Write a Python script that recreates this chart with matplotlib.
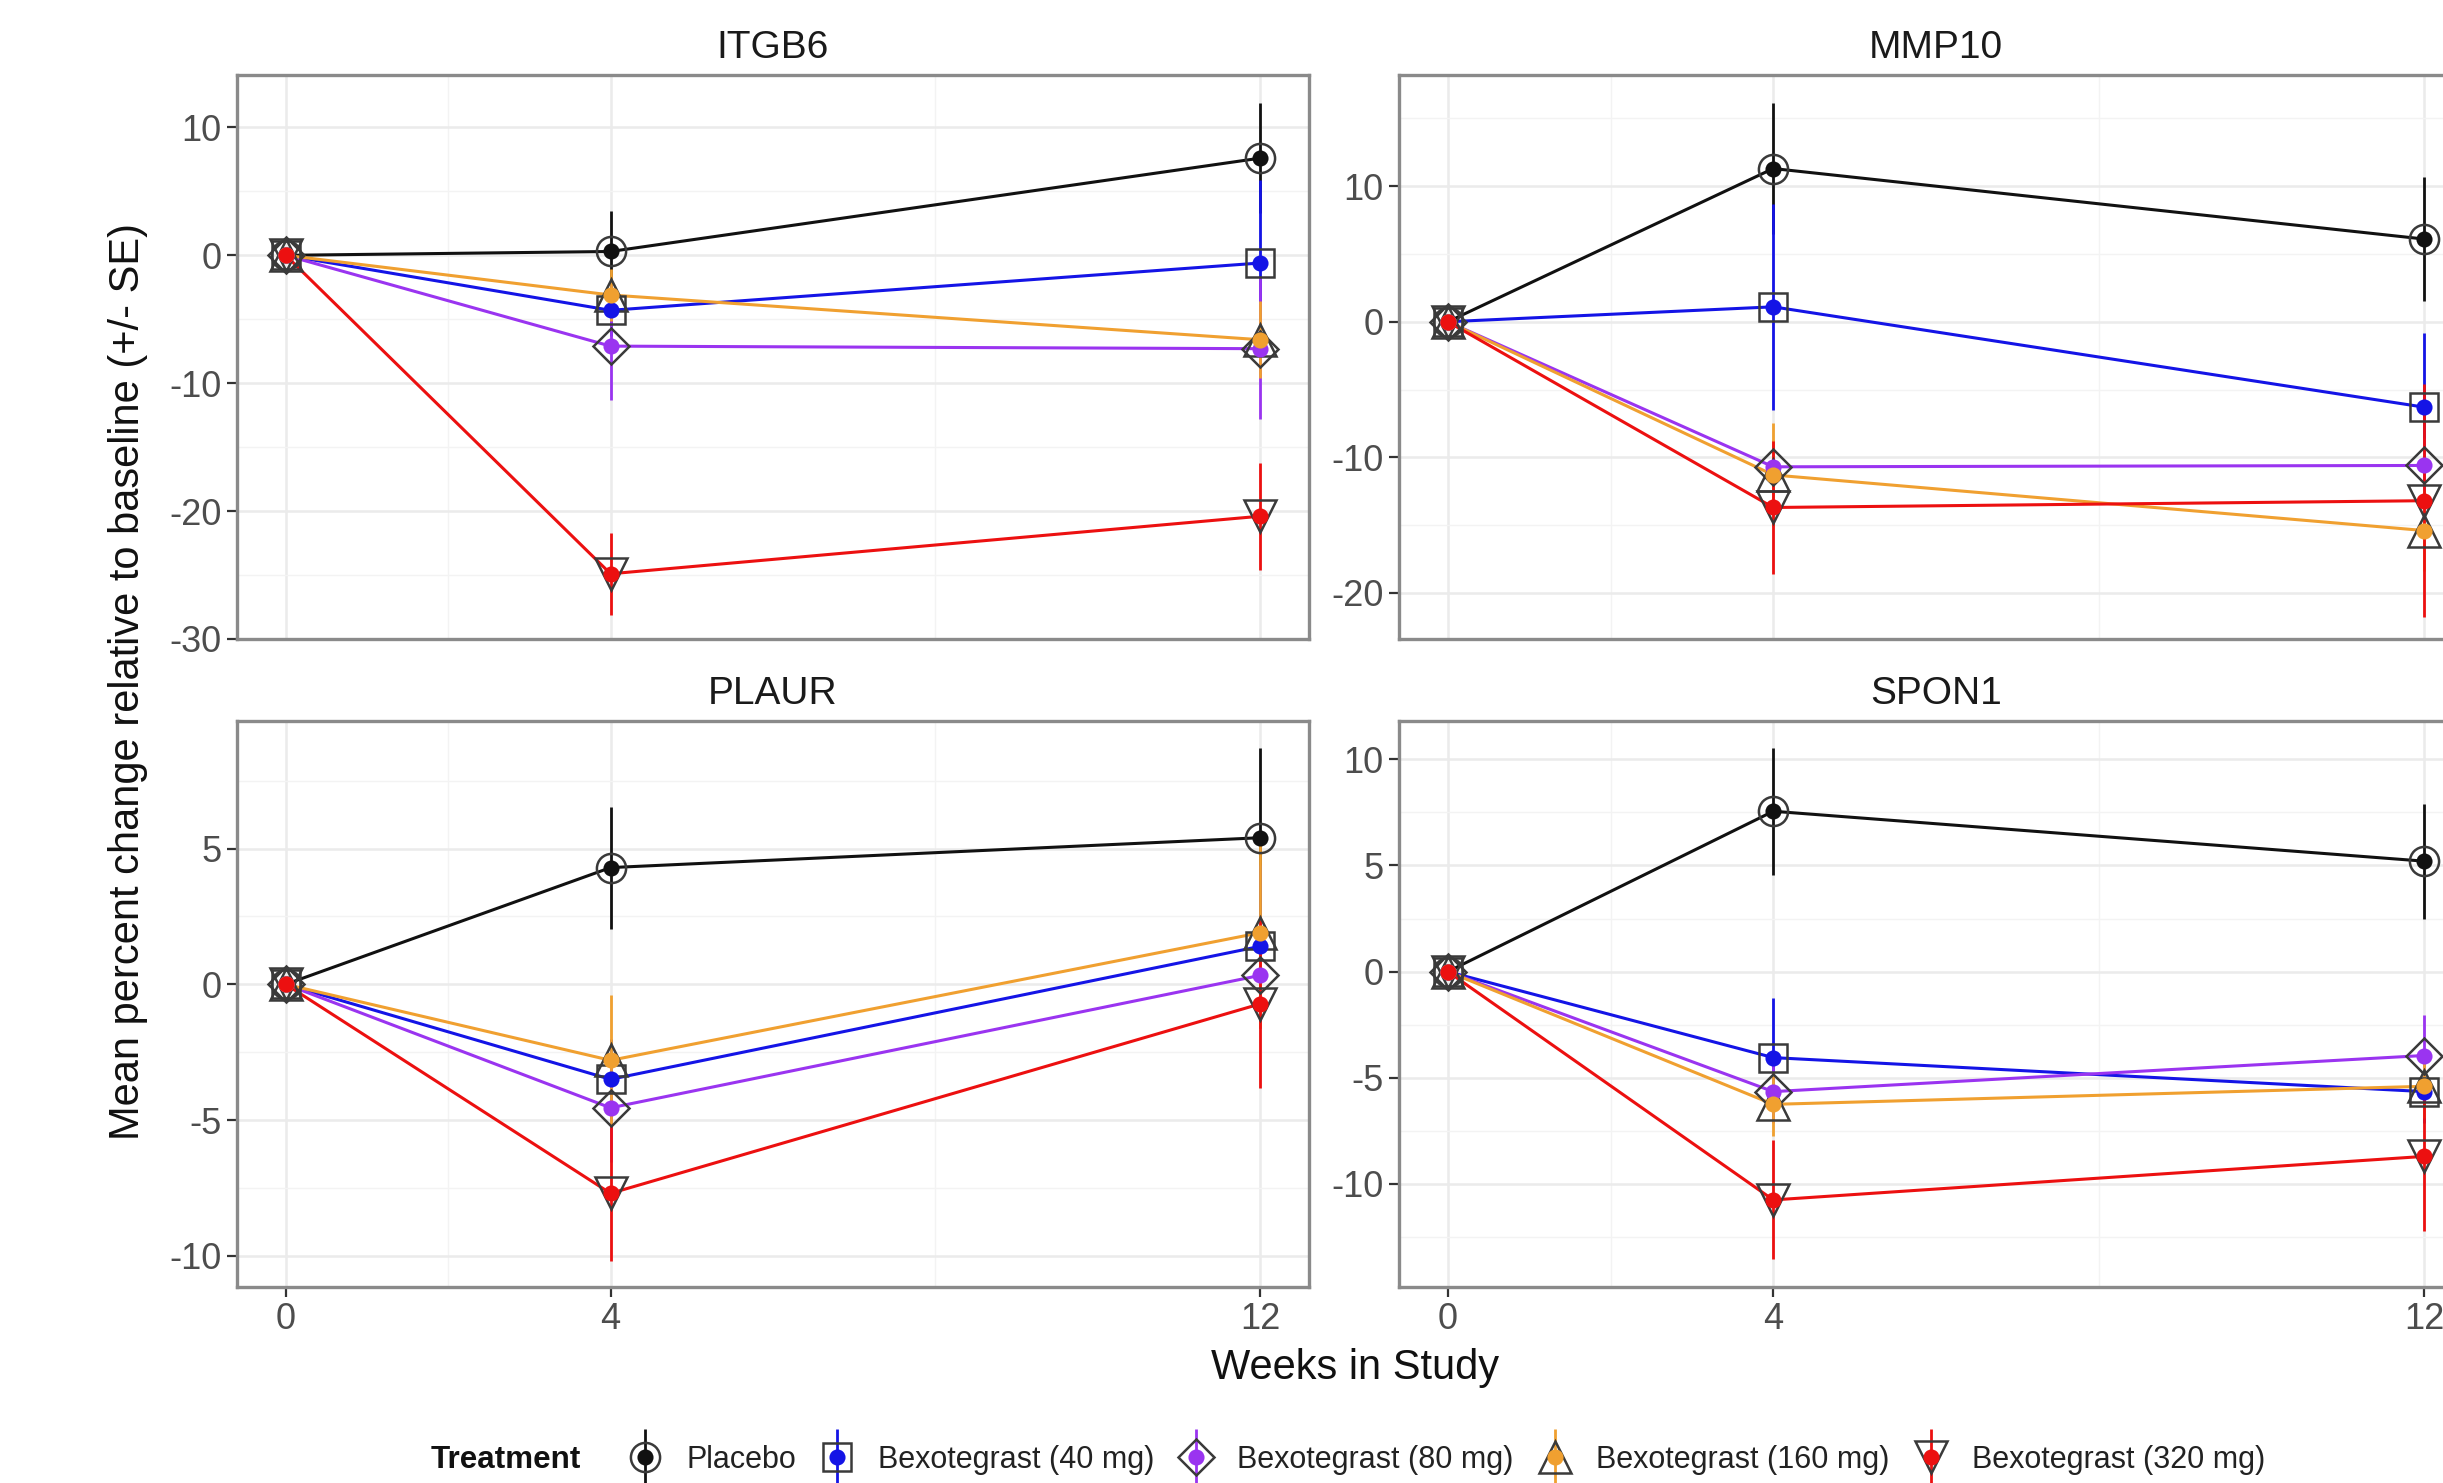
"""Mean percent change from baseline per biomarker, faceted 2x2."""

import matplotlib
matplotlib.use("Agg")
import matplotlib.pyplot as plt
from matplotlib.lines import Line2D
from matplotlib.legend_handler import HandlerTuple

plt.rcParams["font.family"] = ["Liberation Sans", "DejaVu Sans"]

WEEKS = [0, 4, 12]
TREATMENTS = [
    "Placebo",
    "Bexotegrast (40 mg)",
    "Bexotegrast (80 mg)",
    "Bexotegrast (160 mg)",
    "Bexotegrast (320 mg)",
]
GENES = ["ITGB6", "MMP10", "PLAUR", "SPON1"]

# mean % change per treatment (rows) at weeks 0, 4, 12
ITGB6_MEAN = [[0, 0.3, 7.6], [0, -4.3, -0.6], [0, -7.1, -7.3], [0, -3.1, -6.6], [0, -24.9, -20.4]]
ITGB6_SE = [[0, 3.2, 4.3], [0, 2.0, 6.5], [0, 4.2, 5.5], [0, 2.0, 3.0], [0, 3.2, 4.2]]
MMP10_MEAN = [[0, 11.3, 6.1], [0, 1.1, -6.3], [0, -10.7, -10.6], [0, -11.3, -15.4], [0, -13.7, -13.2]]
MMP10_SE = [[0, 4.8, 4.6], [0, 7.6, 5.5], [0, 2.0, 2.0], [0, 3.8, 3.0], [0, 4.9, 8.6]]
PLAUR_MEAN = [[0, 4.3, 5.4], [0, -3.5, 1.4], [0, -4.55, 0.33], [0, -2.8, 1.9], [0, -7.7, -0.72]]
PLAUR_SE = [[0, 2.25, 3.3], [0, 1.5, 3.0], [0, 2.0, 1.5], [0, 2.4, 3.5], [0, 2.5, 3.1]]
SPON1_MEAN = [[0, 7.55, 5.2], [0, -4.05, -5.65], [0, -5.65, -3.95], [0, -6.25, -5.4], [0, -10.75, -8.7]]
SPON1_SE = [[0, 3.0, 2.7], [0, 2.8, 1.5], [0, 1.5, 1.9], [0, 1.5, 1.5], [0, 2.8, 3.5]]

Y_TICKS = {
    "ITGB6": [10, 0, -10, -20, -30],
    "MMP10": [10, 0, -10, -20],
    "PLAUR": [5, 0, -5, -10],
    "SPON1": [10, 5, 0, -5, -10],
}

DATA = {
    "ITGB6": (ITGB6_MEAN, ITGB6_SE),
    "MMP10": (MMP10_MEAN, MMP10_SE),
    "PLAUR": (PLAUR_MEAN, PLAUR_SE),
    "SPON1": (SPON1_MEAN, SPON1_SE),
}
Y_LIMITS = {
    "ITGB6": (-30.0, 14.1),
    "MMP10": (-23.4, 18.2),
    "PLAUR": (-11.15, 9.7),
    "SPON1": (-14.85, 11.8),
}

COLORS = ["#111111", "#1414e6", "#9a34f0", "#f0a030", "#ec1010"]
SHAPES = ["o", "s", "D", "^", "v"]
SHAPE_SIZE = [10.5, 10.0, 9.0, 11.5, 11.5]
OUTLINE = "#3a3a3a"

W, H = 2443, 1483
# panel boxes in pixels: left, top, right, bottom
PANELS = {
    "ITGB6": (237, 75, 1309, 639),
    "MMP10": (1399, 75, 2473, 639),
    "PLAUR": (237, 721, 1309, 1287),
    "SPON1": (1399, 721, 2473, 1287),
}

fig = plt.figure(figsize=(W / 200, H / 200), dpi=200)

for gene in GENES:
    left, top, right, bottom = PANELS[gene]
    ax = fig.add_axes([left / W, 1 - bottom / H, (right - left) / W, (bottom - top) / H])
    means, ses = DATA[gene]

    for i, color in enumerate(COLORS):
        ax.plot(WEEKS, means[i], color=color, lw=1.1, zorder=2)
    for i, color in enumerate(COLORS):
        lo = [m - s for m, s in zip(means[i], ses[i])]
        hi = [m + s for m, s in zip(means[i], ses[i])]
        ax.vlines(WEEKS, lo, hi, color=color, lw=1.0, zorder=3)
    for i, color in enumerate(COLORS):
        ax.plot(WEEKS, means[i], ls="none", marker=SHAPES[i], ms=SHAPE_SIZE[i],
                mfc="none", mec=OUTLINE, mew=0.9, zorder=4)
    for i, color in enumerate(COLORS):
        ax.plot(WEEKS, means[i], ls="none", marker="o", ms=5.8,
                mfc=color, mec=color, mew=0, zorder=5)

    ax.set_xticks(WEEKS)
    ax.set_xticks([2, 8], minor=True)
    ticks = Y_TICKS[gene]
    ax.set_yticks(ticks)
    step = abs(ticks[0] - ticks[1])
    ax.set_yticks([t - step / 2 for t in ticks] + [ticks[0] + step / 2], minor=True)
    ax.set_yticklabels([str(t) for t in ticks])
    ax.set_xlim(-0.6, 12.6)
    ax.set_ylim(*Y_LIMITS[gene])
    ax.grid(True, which="major", color="#ebebeb", lw=0.9, zorder=0)
    ax.grid(True, which="minor", color="#f3f3f3", lw=0.5, zorder=0)
    ax.set_axisbelow(True)
    for spine in ax.spines.values():
        spine.set_color("#8a8a8a")
        spine.set_linewidth(1.2)
    ax.tick_params(which="major", length=3.5, width=0.8, color="#333333",
                   labelsize=13, labelcolor="#4d4d4d", pad=2)
    ax.tick_params(which="minor", length=0)
    if top < 400:
        ax.tick_params(axis="x", bottom=False, labelbottom=False)
    ax.set_title(gene, fontsize=14, color="#1a1a1a", pad=6)

fig.text(128 / W, 1 - 681 / H, "Mean percent change relative to baseline (+/- SE)",
         rotation=90, ha="center", va="center", fontsize=15, color="#111111")
fig.text(1355 / W, 1 - 1368 / H, "Weeks in Study", ha="center", va="center",
         fontsize=15, color="#111111")

handles = []
for i, color in enumerate(COLORS):
    bar = Line2D([], [], ls="none", marker="|", ms=20, mew=1.0, color=color)
    shape = Line2D([], [], ls="none", marker=SHAPES[i], ms=SHAPE_SIZE[i],
                   mfc="none", mec=OUTLINE, mew=0.9)
    dot = Line2D([], [], ls="none", marker="o", ms=5.8, mfc=color, mec=color, mew=0)
    handles.append((bar, shape, dot))

fig.text(581 / W, 1 - 1460 / H, "Treatment", ha="right", va="center",
         fontsize=11.3, fontweight="bold", color="#111111")
fig.legend(handles, TREATMENTS, handler_map={tuple: HandlerTuple(ndivide=1, pad=0)},
           loc="center", bbox_to_anchor=(1446 / W, 1 - 1460 / H), ncol=5, frameon=False,
           fontsize=11.0, handlelength=1.2, handletextpad=0.75, columnspacing=0.75,
           borderpad=0, borderaxespad=0, labelcolor="#222222")

fig.savefig("out.png", dpi=200)
